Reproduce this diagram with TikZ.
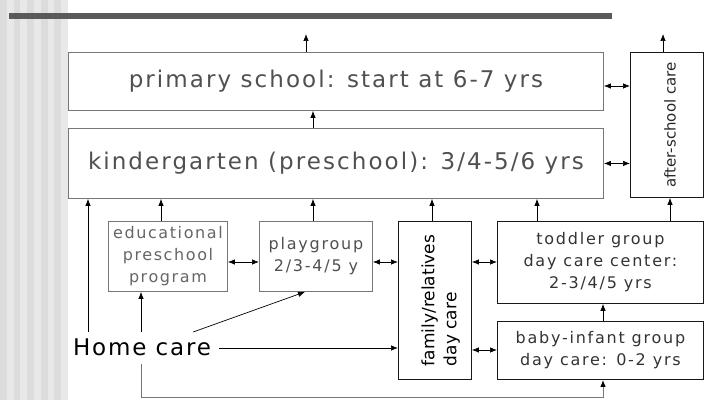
\documentclass[tikz,border=0pt]{standalone}
\usepackage{fontspec}
\setmainfont{DejaVu Sans}
\newfontfamily\spaced[LetterSpace=11]{DejaVu Sans}
\newfontfamily\spacedbig[LetterSpace=9]{DejaVu Sans}
\newfontfamily\spacedwide[LetterSpace=10]{DejaVu Sans}
\newfontfamily\spacedhome[LetterSpace=8]{DejaVu Sans}
\usetikzlibrary{arrows.meta,positioning}

\definecolor{boxgray}{HTML}{777777}
\definecolor{textgray}{HTML}{505050}
\definecolor{bargray}{HTML}{5A5A5A}
\definecolor{stripea}{HTML}{DCDCDC}
\definecolor{stripeb}{HTML}{E8E8E8}

\begin{document}
\begin{tikzpicture}[
    x=1pt, y=-1pt,
    box/.style={rectangle, draw=boxgray, line width=0.9pt, inner sep=0pt, align=center, text=textgray, anchor=north west},
    darkbox/.style={box, draw=black!90},
    bigfont/.style={font=\spacedbig\fontsize{23}{26}\selectfont},
    medfont/.style={font=\spaced\fontsize{16}{22}\selectfont},
    conn/.style={-{Latex[length=7pt,width=5.5pt]}, line width=0.7pt},
    both/.style={{Latex[length=7pt,width=5.5pt]}-{Latex[length=7pt,width=5.5pt]}, line width=0.7pt},
]
    \useasboundingbox (0,0) rectangle (704,403);

    % striped margin and top bar
    \fill[stripeb] (0,0) rectangle (68,400);
    \foreach \x in {0,13.6,...,60} \fill[stripea] (\x,0) rectangle ++(6.8,400);
    \fill[bargray] (9,13) rectangle (612,19.5);

    % school boxes
    \node[box, bigfont, minimum width=535pt, minimum height=58pt] (primary) at (68,52) {primary school: start at 6-7 yrs};
    \node[box, bigfont, minimum width=535pt, minimum height=70pt] (kinder) at (68,128) {kindergarten (preschool): 3/4-5/6 yrs};
    \node[darkbox, minimum width=73pt, minimum height=145pt, text=black!85, font=\fontsize{15}{18}\selectfont] (after-school) at (630,52) {\hspace*{6pt}\rotatebox{90}{after-school care}};

    % care boxes
    \node[box, font=\spacedwide\fontsize{16}{22}\selectfont, text=black!60, minimum width=119pt, minimum height=70pt] (edu) at (108,221) {educational\\preschool\\program};
    \node[box, medfont, minimum width=113pt, minimum height=70pt] (play) at (259,221) {playgroup\\2/3-4/5 y};
    \node[darkbox, minimum width=73pt, minimum height=158pt, text=black, font=\fontsize{17}{22}\selectfont] (family) at (398,221) {\hspace*{12pt}\rotatebox{90}{\begin{tabular}{@{}l@{}}family/relatives\\day care\end{tabular}}};
    \node[darkbox, medfont, text=black!80, minimum width=206pt, minimum height=82pt] (toddler) at (497,221) {toddler group\\day care center:\\2-3/4/5 yrs};
    \node[darkbox, medfont, text=black!80, minimum width=206pt, minimum height=58pt] (baby) at (497,321) {baby-infant group\\day care: 0-2 yrs};
    \node[font=\spacedhome\fontsize{23}{26}\selectfont, inner xsep=8pt, inner ysep=8pt, text height=15.5pt, text depth=0pt] (home) at (142,348) {Home care};

    % arrows between upper boxes
    \coordinate (top-primary) at (306,34);
    \coordinate (top-after) at (663,34);
    \draw[conn] (primary.north -| top-primary) -- (top-primary);
    \draw[conn] (after-school.north -| top-after) -- (top-after);
    \draw[both] (primary.east |- 0,86) -- (after-school.west |- 0,86);
    \draw[both] (kinder.east) -- (after-school.west |- kinder.east);
    \draw[conn] (kinder.north -| 313,0) -- (primary.south -| 313,0);

    % arrows from the care boxes
    \draw[conn] (home.north -| 88,0) -- (kinder.south -| 88,0);
    \draw[conn] (home.north -| 141,0) -- (edu.south -| 141,0);
    \draw[conn] (edu.north -| 161,0) -- (kinder.south -| 161,0);
    \draw[conn] (play.north -| 313,0) -- (kinder.south -| 313,0);
    \draw[conn] (home.north -| 193,0) -- (play.south -| 305,0);
    \draw[both] (edu.east |- 0,262) -- (play.west |- 0,262);
    \draw[both] (play.east |- 0,262) -- (family.west |- 0,262);
    \draw[conn] (home.east) -- (family.west |- home.east);
    \draw[draw=boxgray, line width=1pt, -{Latex[length=7pt,width=5.5pt,color=black]}] (home.south -| 141,0) -- (141,397) -| (baby.south -| 603,0);
    \draw[conn] (family.north -| 432,0) -- (kinder.south -| 432,0);
    \draw[conn] (toddler.north -| 537,0) -- (kinder.south -| 537,0);
    \draw[conn] (toddler.north -| 670,0) -- (after-school.south -| 670,0);
    \draw[both] (family.east |- 0,262) -- (toddler.west |- 0,262);
    \draw[both] (family.east |- 0,350) -- (baby.west |- 0,350);
    \draw[conn] (baby.north -| 603,0) -- (toddler.south -| 603,0);

\end{tikzpicture}
\end{document}
